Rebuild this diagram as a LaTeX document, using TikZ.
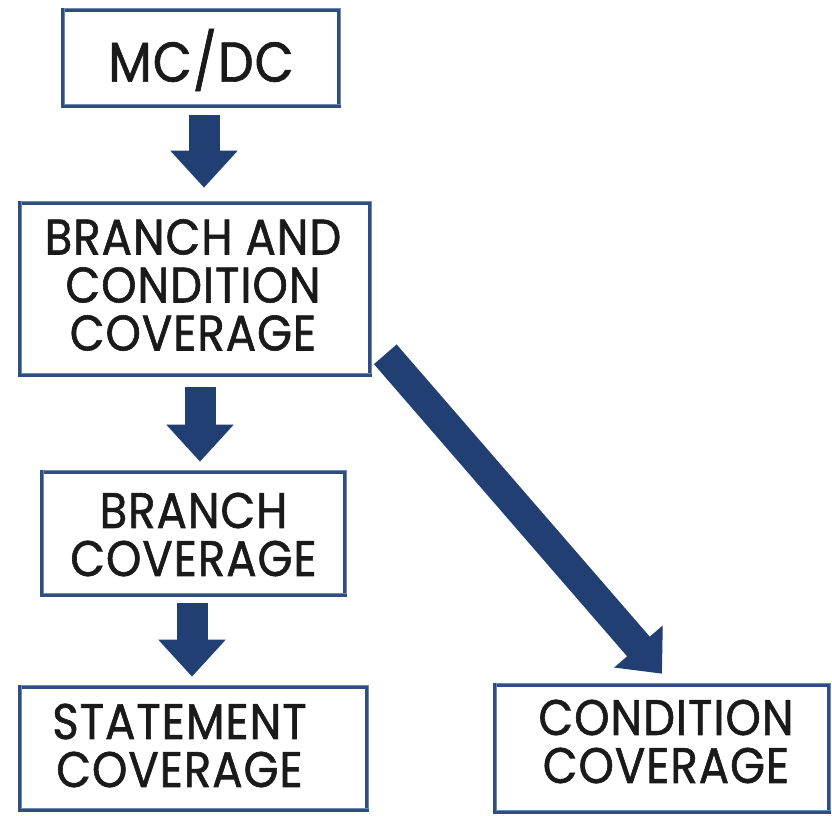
\documentclass[tikz,border=0pt]{standalone}
\usepackage{fontspec}
\setmainfont{Poppins}[FakeStretch=0.9, FakeBold=1.2, LetterSpace=2]
\usetikzlibrary{arrows.meta,calc}
\definecolor{boxblue}{HTML}{2E4E82}
\definecolor{boxlight}{HTML}{6F89B3}
\definecolor{arrowblue}{HTML}{213F72}
\definecolor{inkblack}{HTML}{1A1A1A}
\tikzset{
  level/.style={draw=boxblue, line width=4.6pt, rectangle, inner sep=0pt,
    postaction={draw=boxlight, line width=1.2pt,
      transform canvas={shift={(1.5pt,1.2pt)}}}},
  caption/.style={align=center, text=inkblack, inner sep=0pt,
    font=\fontsize{50}{48}\selectfont},
  blockarrow/.style={draw=arrowblue, line width=31pt, line cap=butt,
    -{Triangle[length=37pt,width=65pt]}},
  slantarrow/.style={draw=arrowblue, line width=30pt, line cap=butt,
    -{Triangle[length=36pt,width=62pt]}}
}
\begin{document}
\begin{tikzpicture}[x=1pt,y=-1pt]
\useasboundingbox (0,0) rectangle (832,815);

% coverage criteria, strongest at the top
\node[level, minimum width=276pt, minimum height=96pt] (mcdc) at (201,58) {};
\node[level, minimum width=350pt, minimum height=172pt] (bcc) at (195,289) {};
\node[level, minimum width=303pt, minimum height=123pt] (bc) at (193.5,533.5) {};
\node[level, minimum width=347pt, minimum height=123pt] (sc) at (193.5,748.5) {};
\node[level, minimum width=334pt, minimum height=127pt] (cc) at (662,748.5) {};

% their names
\node[caption, font=\fontsize{56}{56}\selectfont] (mcdc-t) at ($(mcdc)+(0,2)$) {MC/DC};
\node[caption] (bcc-t) at ($(bcc)+(-2,-4)$) {BRANCH AND\\CONDITION\\COVERAGE};
\node[caption] (bc-t) at ($(bc)+(0,1)$) {BRANCH\\COVERAGE};
\node[caption] (sc-t) at ($(sc)+(-14,-3)$) {STATEMENT\\COVERAGE};
\node[caption] (cc-t) at ($(cc)+(4,-7)$) {CONDITION\\COVERAGE};

% subsumption arrows
\draw[blockarrow] ($(mcdc.south)+(3,7)$) -- ($(mcdc.south |- bcc.north)+(3,-13)$);
\draw[blockarrow] ($(bcc.south)+(5,10)$) -- ($(bcc.south |- bc.north)+(5,-8)$);
\draw[blockarrow] ($(bc.south)+(-1.5,6)$) -- ($(bc.south |- sc.north)+(-1.5,-8)$);
\draw[slantarrow] ($(bcc.south east)+(13,-23)$) -- ($(cc.north)+(0,-9)$);
\end{tikzpicture}
\end{document}
